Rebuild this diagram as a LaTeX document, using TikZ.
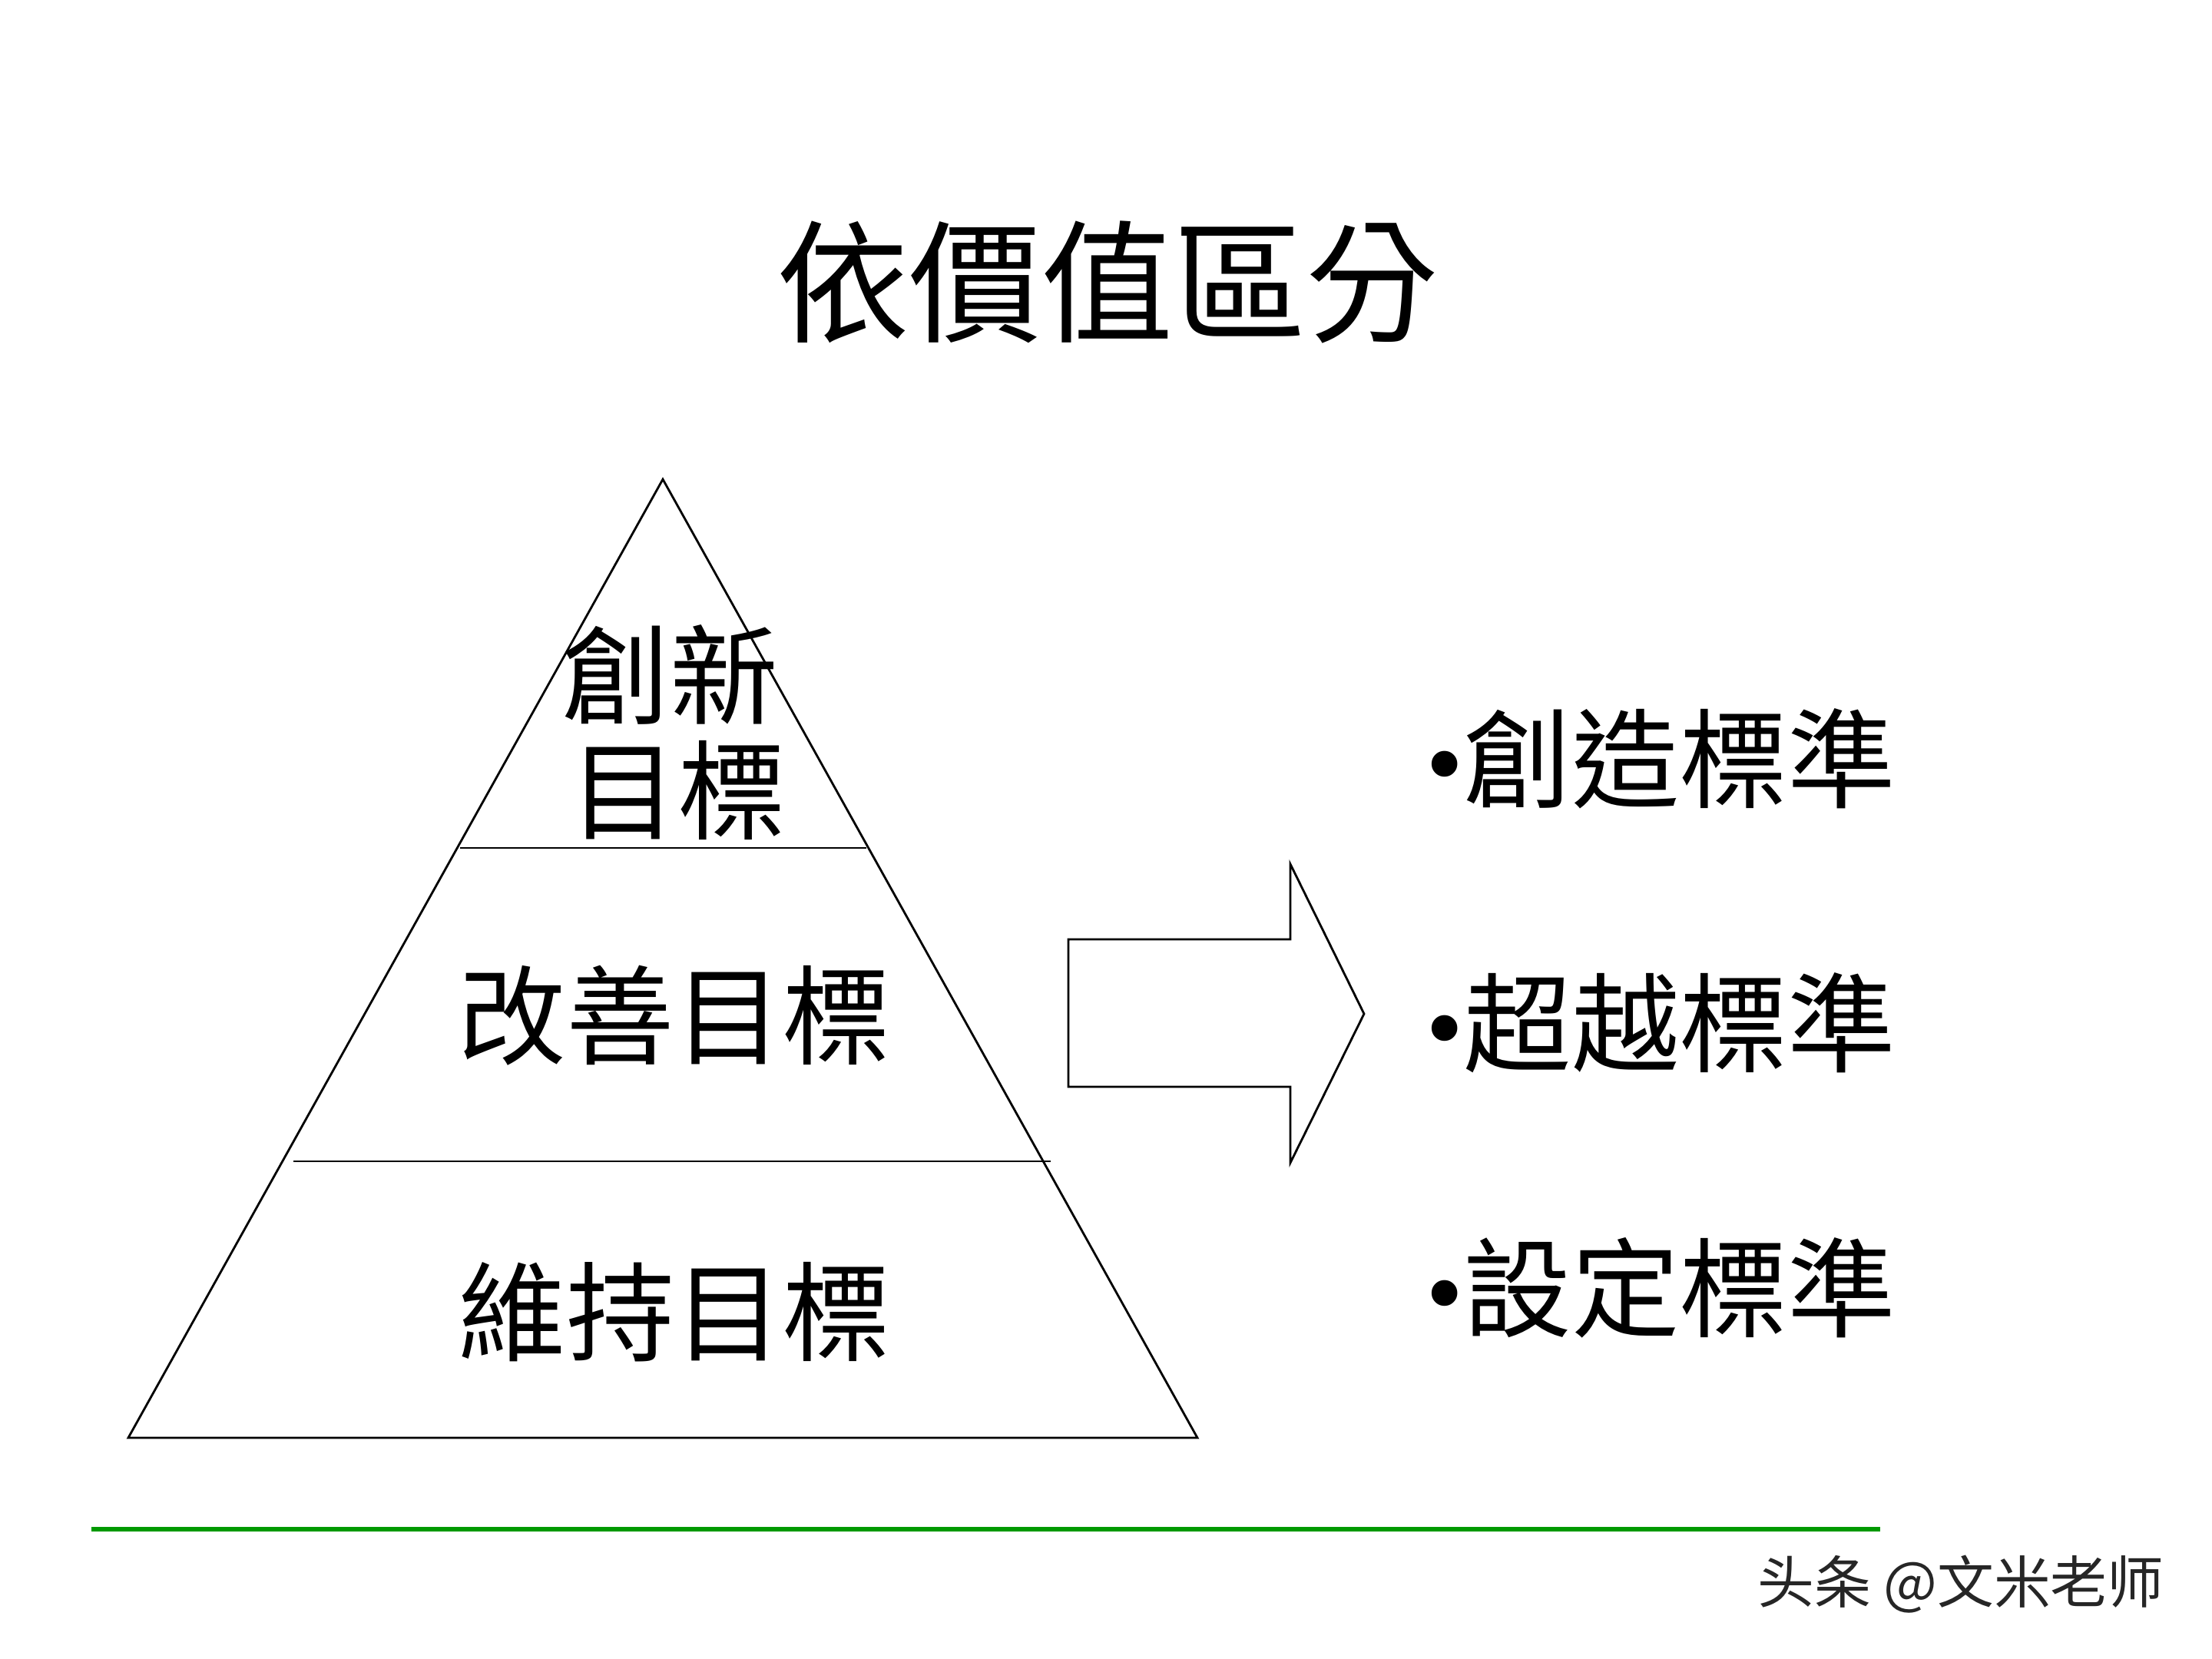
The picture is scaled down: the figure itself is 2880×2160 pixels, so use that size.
\documentclass[tikz,border=0pt]{standalone}
\usepackage{fontspec}
\setmainfont{Noto Sans CJK TC}
\newfontfamily\latinfont{Liberation Serif}
\usepackage{xcolor}
\usepackage{tikz}
\usetikzlibrary{positioning}
\definecolor{rulegreen}{RGB}{0,153,0}
\newcommand{\bigcjk}{\fontsize{40}{43}\selectfont}
\newcommand{\dotmark}{{\latinfont •}}

\begin{document}
\begin{tikzpicture}[x=0.01cm,y=-0.01cm,line width=0.8pt,
    lbl/.style={font=\bigcjk,inner sep=0pt,anchor=center}]
  \useasboundingbox (0,0) rectangle (2880,2160);
  % title
  \node[font=\fontsize{49}{55}\selectfont,inner sep=0pt] (title) at (1442,367) {依價值區分};
  % pyramid
  \draw (863,624) -- (1559,1872) -- (167,1872) -- cycle;
  \draw (599,1104) -- (1128,1104);
  \draw (382,1512) -- (1368,1512);
  % labels
  \node[lbl] (top1) at (872,878) {創新};
  \node[lbl] (top2) at (882,1029) {目標};
  \node[lbl] (mid) at (878,1322) {改善目標};
  \node[lbl] (low) at (878,1708) {維持目標};
  % arrow
  \draw (1391,1223) -- (1680,1223) -- (1680,1125) -- (1776,1320)
    -- (1680,1514) -- (1680,1415) -- (1391,1415) -- cycle;
  % standards
  \node[lbl,anchor=west] (std1) at (1855,988) {\dotmark 創造標準};
  \node[lbl,anchor=west] (std2) at (1855,1332) {\dotmark 超越標準};
  \node[lbl,anchor=west] (std3) at (1855,1677) {\dotmark 設定標準};
  % footer
  \draw[rulegreen,line width=1.9pt] (119,1991) -- (2448,1991);
  \node[font=\fontsize{21}{24}\selectfont,text=black!85,inner sep=0pt] (mark) at (2553,2063) {头条 @文米老师};
\end{tikzpicture}
\end{document}
